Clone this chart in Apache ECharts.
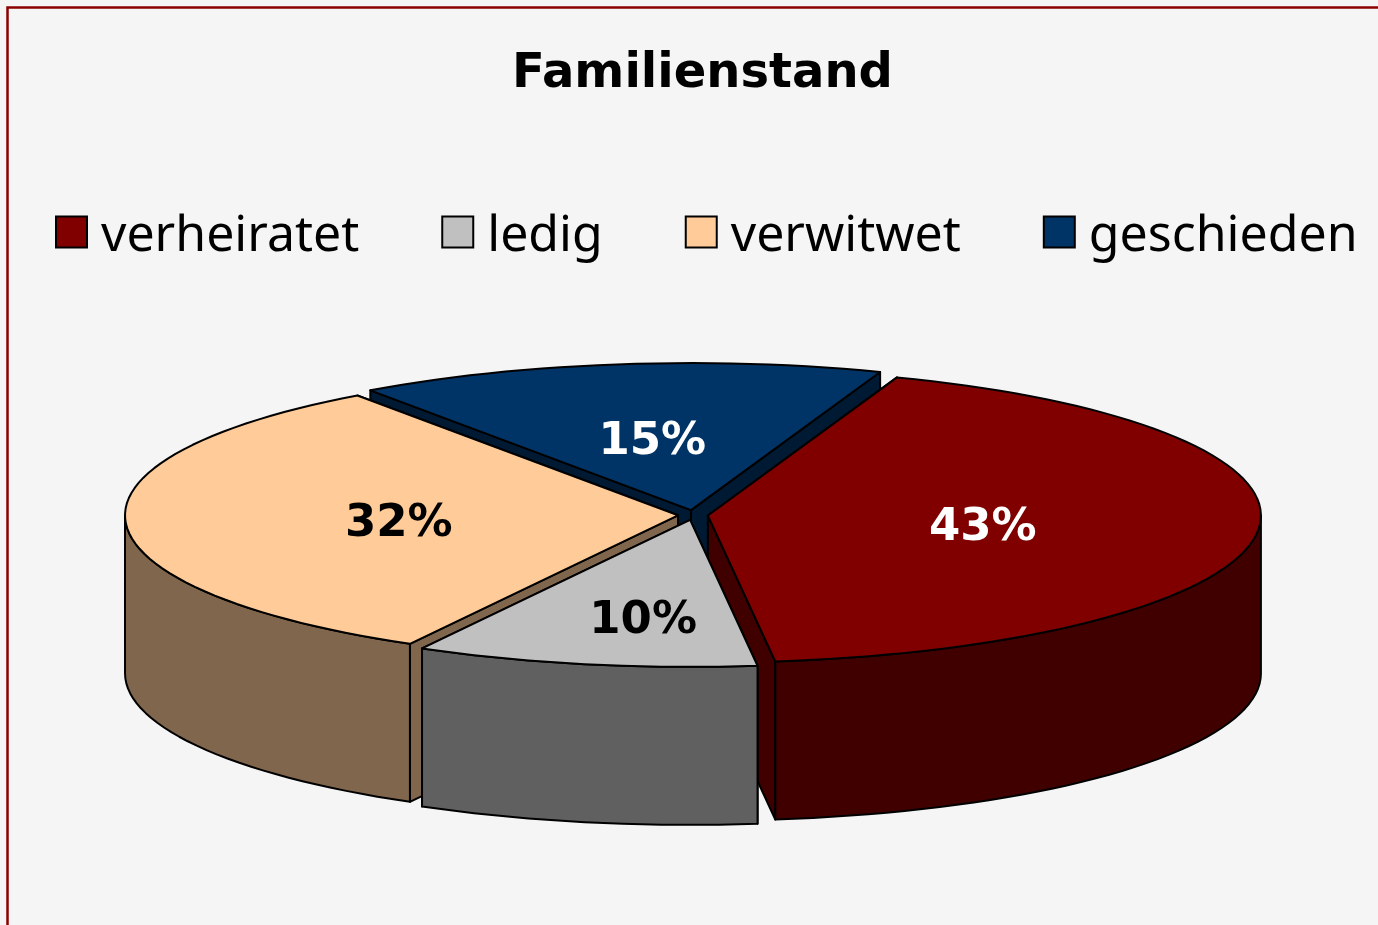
<!DOCTYPE html>
<html><head><meta charset="utf-8">
<style>html,body{margin:0;padding:0;background:#f5f5f5;overflow:hidden}#c{width:1378px;height:925px}</style>
<script src="https://cdn.jsdelivr.net/npm/echarts@6/dist/echarts.min.js"></script>
</head><body><div id="c"></div>
<script>
const chartTitle = 'Familienstand';
const categories = ['verheiratet', 'ledig', 'verwitwet', 'geschieden'];
const values = [42.5, 10, 32.1, 15.4];
const topColors = ['#800000', '#C0C0C0', '#FFCC99', '#003366'];
const sideColors = ['#400000', '#606060', '#80664D', '#001A33'];
const labelColors = ['#fff', '#000', '#000', '#fff'];
const paintOrder = [2, 3, 1, 0]; // back-to-front layer per category

const CX = 693, CY = 515, RX = 553, RY = 147, DEPTH = 158;
const EXPLODE = 15, EXPLODE_Y = 0.33, START_DEG = 20;
const labelAnchors = [[0.497, 0.09], [-0.085, 0.687], [-0.505, 0.06], [-0.07, -0.46]];

const total = values.reduce((a, b) => a + b, 0);
const rad = d => d * Math.PI / 180;
function sliceAngles(i) {
  let a = START_DEG;
  for (let k = 0; k < i; k++) a += values[k] / total * 360;
  return [a, a + values[i] / total * 360];
}
function arcPts(ax, ay, a0, a1) {
  const pts = [], n = Math.max(2, Math.ceil((a1 - a0) / 2));
  for (let k = 0; k <= n; k++) {
    const t = rad(a0 + (a1 - a0) * k / n);
    pts.push([ax + RX * Math.sin(t), ay - RY * Math.cos(t)]);
  }
  return pts;
}
function renderSlice(params, api) {
  const i = api.value(1);
  const [a0, a1] = sliceAngles(i);
  const mid = rad((a0 + a1) / 2);
  const ax = CX + EXPLODE * Math.sin(mid);
  const ay = CY - EXPLODE * EXPLODE_Y * Math.cos(mid);
  const line = {stroke: '#000', lineWidth: 2, lineJoin: 'round'};
  const side = Object.assign({fill: sideColors[i]}, line);
  const arc = arcPts(ax, ay, a0, a1);
  const down = p => [p[0], p[1] + DEPTH];
  const wall = p => ({type: 'polygon', shape: {points: [[ax, ay], p, down(p), [ax, ay + DEPTH]]}, style: side});
  const startWall = wall(arc[0]), endWall = wall(arc[arc.length - 1]);
  const children = Math.cos(rad(a0)) > Math.cos(rad(a1)) ? [startWall, endWall] : [endWall, startWall];
  const f0 = Math.max(a0, 90), f1 = Math.min(a1, 270);
  if (f1 > f0) {
    const front = arcPts(ax, ay, f0, f1);
    children.push({type: 'polygon', shape: {points: front.concat(front.map(down).reverse())}, style: side});
  }
  children.push({type: 'polygon', shape: {points: [[ax, ay]].concat(arc)},
    style: Object.assign({fill: topColors[i]}, line)});
  children.push({type: 'text', style: {
    text: Math.round(api.value(0)) + '%',
    x: ax + labelAnchors[i][0] * RX, y: ay + labelAnchors[i][1] * RY,
    align: 'center', verticalAlign: 'middle',
    fill: labelColors[i], font: 'bold 45px "DejaVu Sans"'
  }});
  return {type: 'group', children};
}
const chart = echarts.init(document.getElementById('c'), null, {renderer: 'canvas'});
chart.setOption({
  animation: false,
  backgroundColor: '#f5f5f5',
  title: {text: chartTitle, left: 507, top: 46,
    textStyle: {fontFamily: 'DejaVu Sans', fontWeight: 'bold', fontSize: 48, color: '#000'}},
  legend: {
    data: categories, left: 55, top: 212, orient: 'horizontal', icon: 'rect',
    itemWidth: 31, itemHeight: 31, itemGap: 82, padding: 0,
    itemStyle: {borderColor: '#000', borderWidth: 2},
    formatter: '{t|{name}}',
    textStyle: {color: '#000', rich: {t: {fontFamily: 'Noto Sans', fontSize: 50, color: '#000', padding: [10, 0, 0, 9]}}}
  },
  graphic: [{type: 'polyline', silent: true, z: -1,
    shape: {points: [[7.5, 930], [7.5, 7.5], [1385, 7.5]]},
    style: {stroke: '#8B0000', lineWidth: 2.5, fill: null}}],
  series: categories.map((name, i) => ({
    type: 'custom', name, coordinateSystem: 'none', z: 2 + paintOrder[i],
    itemStyle: {color: topColors[i]},
    renderItem: renderSlice, data: [[values[i], i]], silent: true
  }))
});
</script></body></html>
